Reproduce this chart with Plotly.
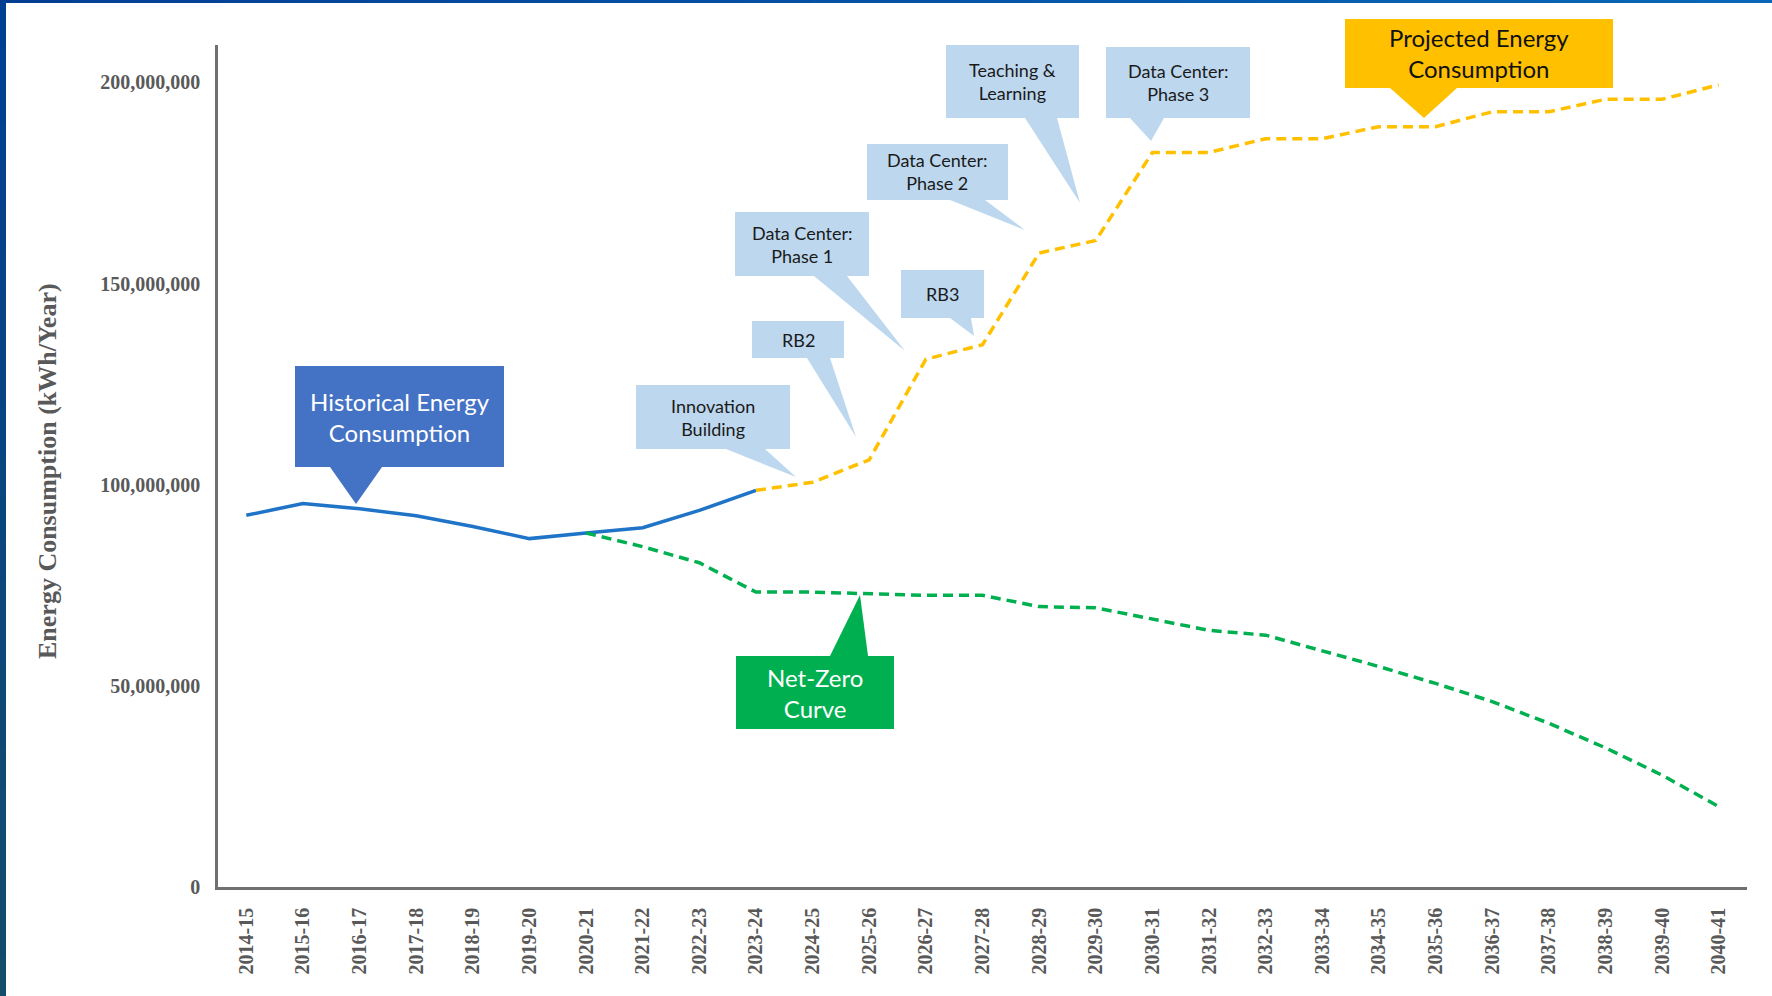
import plotly.graph_objects as go

# ---------------- data ----------------
years = ["2014-15", "2015-16", "2016-17", "2017-18", "2018-19", "2019-20", "2020-21",
         "2021-22", "2022-23", "2023-24", "2024-25", "2025-26", "2026-27", "2027-28",
         "2028-29", "2029-30", "2030-31", "2031-32", "2032-33", "2033-34", "2034-35",
         "2035-36", "2036-37", "2037-38", "2038-39", "2039-40", "2040-41"]

historical_years = years[0:10]
historical_mwh = [92.4, 95.3, 94.0, 92.3, 89.6, 86.6, 88.0, 89.3, 93.6, 98.6]  # millions kWh

netzero_years = years[6:]
netzero_mwh = [88.0, 84.6, 80.6, 73.3, 73.3, 73.0, 72.5, 72.5, 69.7, 69.4, 66.6, 63.8,
               62.6, 58.7, 54.8, 50.6, 46.1, 40.7, 34.6, 27.8, 20.0]

projected_years = years[9:]
projected_mwh = [98.6, 100.6, 106.2, 131.2, 134.8, 157.6, 160.7, 182.6, 182.6, 186.0,
                 186.0, 189.0, 189.0, 192.7, 192.7, 195.8, 195.8, 199.4]

y_ticks = [0, 50_000_000, 100_000_000, 150_000_000, 200_000_000]

# ---------------- layout geometry (pixels) ----------------
W, H = 1772, 996
L, R, T, B = 218, 1747, 45, 887


def px(x):
    return (x - L) / (R - L)


def py(y):
    return (B - y) / (B - T)


fig = go.Figure()

fig.add_trace(go.Scatter(
    x=historical_years, y=[v * 1e6 for v in historical_mwh], mode="lines",
    line=dict(color="#1F74C8", width=3.5), name="Historical", hoverinfo="skip"))
fig.add_trace(go.Scatter(
    x=netzero_years, y=[v * 1e6 for v in netzero_mwh], mode="lines",
    line=dict(color="#00B050", width=3.5, dash="10px,6px"), name="Net-Zero", hoverinfo="skip"))
fig.add_trace(go.Scatter(
    x=projected_years, y=[v * 1e6 for v in projected_mwh], mode="lines",
    line=dict(color="#FFC000", width=3.5, dash="10px,6px"), name="Projected", hoverinfo="skip"))

shapes = []
annotations = []

# ---------------- callouts ----------------
callouts = [
    dict(text="Historical Energy<br>Consumption", box=(295, 366, 504, 467),
         ptr=((330, 467), (382, 467), (356, 504)), fill="#4472C4", color="white", size=24),
    dict(text="Net-Zero<br>Curve", box=(736, 656, 894, 729),
         ptr=((830, 656), (868, 656), (860, 595)), fill="#00B050", color="white", size=24),
    dict(text="Projected Energy<br>Consumption", box=(1345, 19, 1613, 88),
         ptr=((1390, 88), (1457, 88), (1424, 118)), fill="#FFC000", color="#111111", size=24),
    dict(text="Innovation<br>Building", box=(636, 385, 790, 449),
         ptr=((726, 449), (765, 449), (796, 477)), fill="#BDD7EE", color="#1a1a1a", size=18),
    dict(text="RB2", box=(752, 321, 844, 358),
         ptr=((807, 358), (830, 358), (856, 437)), fill="#BDD7EE", color="#1a1a1a", size=18),
    dict(text="Data Center:<br>Phase 1", box=(735, 212, 869, 276),
         ptr=((814, 276), (847, 276), (905, 351)), fill="#BDD7EE", color="#1a1a1a", size=18),
    dict(text="RB3", box=(901, 270, 984, 318),
         ptr=((950, 318), (971, 318), (974, 336)), fill="#BDD7EE", color="#1a1a1a", size=18),
    dict(text="Data Center:<br>Phase 2", box=(867, 144, 1008, 200),
         ptr=((950, 200), (985, 200), (1025, 230)), fill="#BDD7EE", color="#1a1a1a", size=18),
    dict(text="Teaching &<br>Learning", box=(946, 45, 1079, 118),
         ptr=((1025, 118), (1057, 118), (1080, 203)), fill="#BDD7EE", color="#1a1a1a", size=18),
    dict(text="Data Center:<br>Phase 3", box=(1106, 47, 1250, 118),
         ptr=((1130, 118), (1164, 118), (1151, 141)), fill="#BDD7EE", color="#1a1a1a", size=18),
]

for c in callouts:
    x0, y0, x1, y1 = c["box"]
    shapes.append(dict(type="rect", xref="paper", yref="paper",
                       x0=px(x0), x1=px(x1), y0=py(y1), y1=py(y0),
                       fillcolor=c["fill"], line=dict(width=0), layer="above"))
    (ax, ay), (bx, by), (tx, ty) = c["ptr"]
    path = f"M {px(ax)} {py(ay)} L {px(bx)} {py(by)} L {px(tx)} {py(ty)} Z"
    shapes.append(dict(type="path", xref="paper", yref="paper", path=path,
                       fillcolor=c["fill"], line=dict(width=0), layer="above"))
    annotations.append(dict(xref="paper", yref="paper",
                            x=px((x0 + x1) / 2), y=py((y0 + y1) / 2),
                            text=c["text"], showarrow=False,
                            xanchor="center", yanchor="middle", align="center",
                            font=dict(family="Lato, 'Open Sans', sans-serif",
                                      size=c["size"], color=c["color"])))

# ---------------- frame (blue border at top and left) ----------------
def lerp(c1, c2, t):
    a = [int(c1[i:i + 2], 16) for i in (1, 3, 5)]
    b = [int(c2[i:i + 2], 16) for i in (1, 3, 5)]
    return "#" + "".join(f"{round(a[k] + (b[k] - a[k]) * t):02x}" for k in range(3))


n = 24
for i in range(n):
    ya, yb = H * i / n, H * (i + 1) / n
    shapes.append(dict(type="rect", xref="paper", yref="paper",
                       x0=px(0), x1=px(6), y0=py(yb + 1), y1=py(ya),
                       fillcolor=lerp("#023f93", "#124d6b", i / (n - 1)),
                       line=dict(width=0), layer="above"))
for i in range(n):
    xa, xb = W * i / n, W * (i + 1) / n
    shapes.append(dict(type="rect", xref="paper", yref="paper",
                       x0=px(xa), x1=px(xb + 1), y0=py(3), y1=py(0),
                       fillcolor=lerp("#023f93", "#0a66b8", i / (n - 1)),
                       line=dict(width=0), layer="above"))

# y-axis title
annotations.append(dict(xref="paper", yref="paper", x=px(47), y=py(471),
                        text="Energy Consumption (kWh/Year)", textangle=-90, showarrow=False,
                        xanchor="center", yanchor="middle",
                        font=dict(family="Liberation Serif, Times New Roman, serif",
                                  size=26, color="#595959", weight="bold")))

tickfont = dict(family="Liberation Serif, Times New Roman, serif", size=20,
                color="#595959", weight="bold")

fig.update_layout(
    width=W, height=H,
    margin=dict(l=L, r=W - R, t=T, b=H - B, pad=0),
    paper_bgcolor="white", plot_bgcolor="white",
    showlegend=False, hovermode=False,
    shapes=shapes, annotations=annotations,
    xaxis=dict(type="category", categoryorder="array", categoryarray=years,
               range=[-0.5, len(years) - 0.5], showgrid=False, zeroline=False,
               showline=True, linecolor="#707070", linewidth=2.5,
               ticks="", tickangle=-90, tickfont=tickfont, ticklabelstandoff=10),
    yaxis=dict(range=[0, 209.3e6], tickvals=y_ticks, tickformat=",d",
               showgrid=False, zeroline=False,
               showline=True, linecolor="#707070", linewidth=2.5,
               ticks="", tickfont=tickfont, ticklabelstandoff=11),
)

fig.write_html("out.html", config={"displayModeBar": False},
               post_script="document.body.style.margin='0px';document.body.style.overflow='hidden';")
